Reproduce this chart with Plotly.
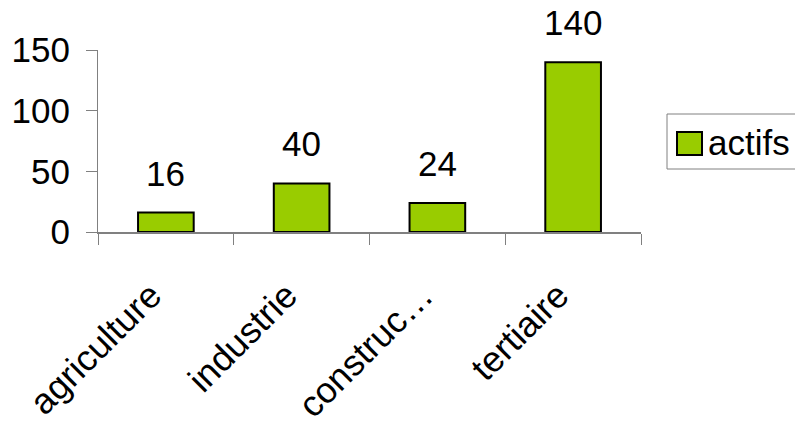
import plotly.graph_objects as go

categories = ["agriculture", "industrie", "construc…", "tertiaire"]
values = [16, 40, 24, 140]
series_name = "actifs"
y_ticks = [0, 50, 100, 150]

W, H = 795, 425
L, R, T, B = 98, 154, 50, 193
pw = W - L - R
ph = H - T - B

def px_x(x):
    return (x - L) / pw

def px_y(y):
    return (H - B - y) / ph

FONT = "Liberation Sans, Arial, sans-serif"
GREEN = "#99CC00"

fig = go.Figure()
fig.add_trace(go.Bar(
    x=categories, y=values, name=series_name,
    marker=dict(color=GREEN, line=dict(color="black", width=2)),
    showlegend=False,
))

# data labels
for c, v in zip(categories, values):
    fig.add_annotation(x=c, y=v, text=str(v), showarrow=False,
                       yanchor="bottom", yshift=18,
                       font=dict(family=FONT, size=35, color="black"))

# manual legend
fig.add_shape(type="rect", xref="paper", yref="paper",
              x0=px_x(667), x1=px_x(805), y0=px_y(169), y1=px_y(114),
              line=dict(color="#808080", width=1), fillcolor="white")
fig.add_shape(type="rect", xref="paper", yref="paper",
              x0=px_x(677), x1=px_x(702), y0=px_y(155), y1=px_y(132),
              line=dict(color="black", width=2), fillcolor=GREEN)
fig.add_annotation(xref="paper", yref="paper", x=px_x(706), y=px_y(142),
                   text=series_name, showarrow=False, xanchor="left",
                   yanchor="middle", font=dict(family=FONT, size=35, color="black"))

fig.update_layout(
    width=W, height=H,
    margin=dict(l=L, r=R, t=T, b=B, pad=0, autoexpand=False),
    paper_bgcolor="white", plot_bgcolor="white",
    bargap=0.59,
    font=dict(family=FONT, size=35, color="black"),
    xaxis=dict(
        automargin=False,
        showline=True, linecolor="#808080", linewidth=2,
        ticks="outside", tickson="boundaries", ticklen=11, tickcolor="#808080", tickwidth=1,
        tickangle=-45, showgrid=False, zeroline=False,
        tickfont=dict(family=FONT, size=36, color="black"),
        ticklabelstandoff=26, ticklabelshift=-15,
    ),
    yaxis=dict(
        automargin=False,
        range=[0, 150], tickvals=y_ticks,
        showline=True, linecolor="#808080", linewidth=1,
        ticks="outside", ticklen=11, tickcolor="#808080", tickwidth=1,
        showgrid=False, zeroline=False,
        tickfont=dict(family=FONT, size=35, color="black"),
        ticklabelstandoff=9,
    ),
)

fig.write_html("out.html")
